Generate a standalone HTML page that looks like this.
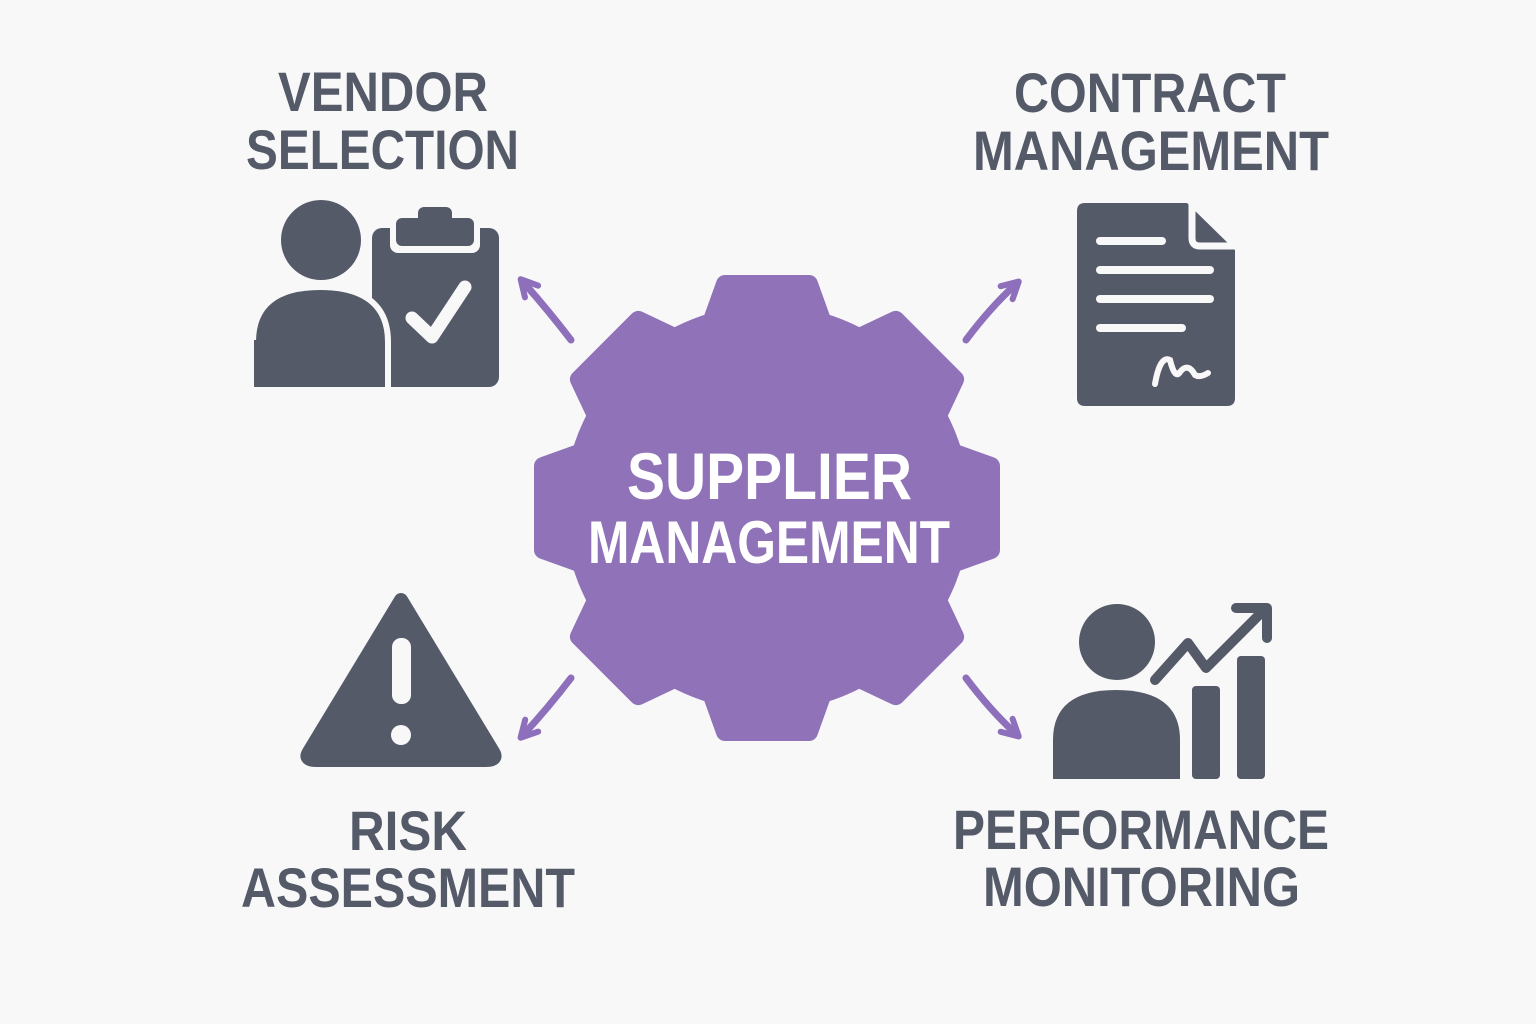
<!DOCTYPE html>
<html><head><meta charset="utf-8"><style>
html,body{margin:0;padding:0;background:#f8f8f9;}
svg{display:block}
text{font-family:"Liberation Sans",sans-serif;font-weight:bold;}
</style></head><body>
<svg width="1536" height="1024" viewBox="0 0 1536 1024" xmlns="http://www.w3.org/2000/svg">
<rect width="1536" height="1024" fill="#f8f8f9"/>
<defs>
<marker id="ah" viewBox="0 0 10 10" refX="6" refY="5" markerWidth="3.6" markerHeight="3.6" orient="auto-start-reverse">
<path d="M1.5,1.5 L8,5 L1.5,8.5" fill="none" stroke="#8e6fbb" stroke-width="2.4" stroke-linecap="round" stroke-linejoin="round"/>
</marker>
</defs>
<!-- gear -->
<g fill="#8f72b8" stroke="#8f72b8" stroke-width="18" stroke-linejoin="round" transform="translate(767,508)">
<circle r="194"/>
<g id="t"><polygon points="-56,-185 56,-185 42,-224 -42,-224"/></g>
<use href="#t" transform="rotate(45)"/><use href="#t" transform="rotate(90)"/><use href="#t" transform="rotate(135)"/>
<use href="#t" transform="rotate(180)"/><use href="#t" transform="rotate(225)"/><use href="#t" transform="rotate(270)"/><use href="#t" transform="rotate(315)"/>
</g>
<text x="627" y="499" textLength="285" lengthAdjust="spacingAndGlyphs" font-size="66" fill="#fff">SUPPLIER</text>
<text x="588" y="563" textLength="362" lengthAdjust="spacingAndGlyphs" font-size="60" fill="#fff">MANAGEMENT</text>
<!-- arrows -->
<g stroke="#8e6fbb" stroke-width="7" fill="none" stroke-linecap="round">
<path d="M571,340 Q548,310 524,283" marker-end="url(#ah)"/>
<path d="M966,340 Q990,308 1015,285" marker-end="url(#ah)"/>
<path d="M571,678 Q548,708 524,734" marker-end="url(#ah)"/>
<path d="M966,678 Q990,710 1015,733" marker-end="url(#ah)"/>
</g>
<!-- labels -->
<g fill="#555a69">
<text x="278" y="111" textLength="210" lengthAdjust="spacingAndGlyphs" font-size="56">VENDOR</text>
<text x="246" y="169" textLength="273" lengthAdjust="spacingAndGlyphs" font-size="56">SELECTION</text>
<text x="1014" y="112" textLength="272" lengthAdjust="spacingAndGlyphs" font-size="56">CONTRACT</text>
<text x="973" y="170" textLength="356" lengthAdjust="spacingAndGlyphs" font-size="56">MANAGEMENT</text>
<text x="349" y="850" textLength="118" lengthAdjust="spacingAndGlyphs" font-size="56">RISK</text>
<text x="241" y="907" textLength="334" lengthAdjust="spacingAndGlyphs" font-size="56">ASSESSMENT</text>
<text x="953" y="849" textLength="376" lengthAdjust="spacingAndGlyphs" font-size="56">PERFORMANCE</text>
<text x="983" y="906" textLength="317" lengthAdjust="spacingAndGlyphs" font-size="56">MONITORING</text>
</g>
<!-- vendor icon -->
<g fill="#555a69">
<circle cx="321" cy="240" r="40"/>
<rect x="372" y="228" width="127" height="159" rx="10"/>
<path d="M256,387 L256,342 Q256,290 320,290 Q385,290 385,342 L385,387 Z" fill="#555a69" stroke="#f8f8f9" stroke-width="12" stroke-linejoin="round"/>
<path d="M256,387 L256,342 Q256,290 320,290 Q385,290 385,342 L385,387 Z"/>
<rect x="254" y="340" width="8" height="47" fill="#555a69"/>
<rect x="390" y="215" width="90" height="38" rx="8" fill="#f8f8f9"/>
<rect x="396" y="218" width="78" height="28" rx="6"/>
<rect x="418" y="207" width="34" height="18" rx="6"/>
<path d="M412,318 L432,337 L465,287" fill="none" stroke="#f8f8f9" stroke-width="13" stroke-linecap="round" stroke-linejoin="round"/>
</g>
<!-- contract icon -->
<g fill="#555a69">
<path d="M1085,203 L1187,203 L1235,250 L1235,398 Q1235,406 1227,406 L1085,406 Q1077,406 1077,398 L1077,211 Q1077,203 1085,203 Z"/>
<path d="M1192,203 L1192,238 Q1192,246 1200,246 L1235,246" fill="none" stroke="#f8f8f9" stroke-width="7"/>
<g stroke="#f8f8f9" stroke-width="8" stroke-linecap="round" fill="none">
<path d="M1100,241 L1162,241"/><path d="M1100,270 L1210,270"/><path d="M1100,299 L1210,299"/><path d="M1100,328 L1182,328"/>
<path d="M1155,384 Q1160,355 1170,360 Q1175,380 1180,372 Q1188,362 1195,375 Q1200,378 1208,373" stroke-width="6"/>
</g>
</g>
<!-- warning -->
<g fill="#555a69">
<path d="M401,600 L309,752 Q304,760 316,760 L486,760 Q498,760 493,752 Z" stroke="#555a69" stroke-width="14" stroke-linejoin="round"/>
<rect x="392" y="638" width="19" height="66" rx="9" fill="#f8f8f9"/>
<circle cx="401" cy="735" r="10" fill="#f8f8f9"/>
</g>
<!-- performance -->
<g fill="#555a69">
<circle cx="1117" cy="642" r="38"/>
<path d="M1053,779 L1053,740 Q1053,690 1116,690 Q1180,690 1180,740 L1180,779 Z"/>
<rect x="1192" y="686" width="28" height="93" rx="4"/>
<rect x="1237" y="656" width="28" height="123" rx="4"/>
<path d="M1155,680 L1188,643 L1206,668 L1262,612" fill="none" stroke="#555a69" stroke-width="10" stroke-linecap="round" stroke-linejoin="round"/>
<path d="M1236,608 L1267,608 L1267,638" fill="none" stroke="#555a69" stroke-width="10" stroke-linecap="round" stroke-linejoin="round"/>
</g>
</svg>
</body></html>
